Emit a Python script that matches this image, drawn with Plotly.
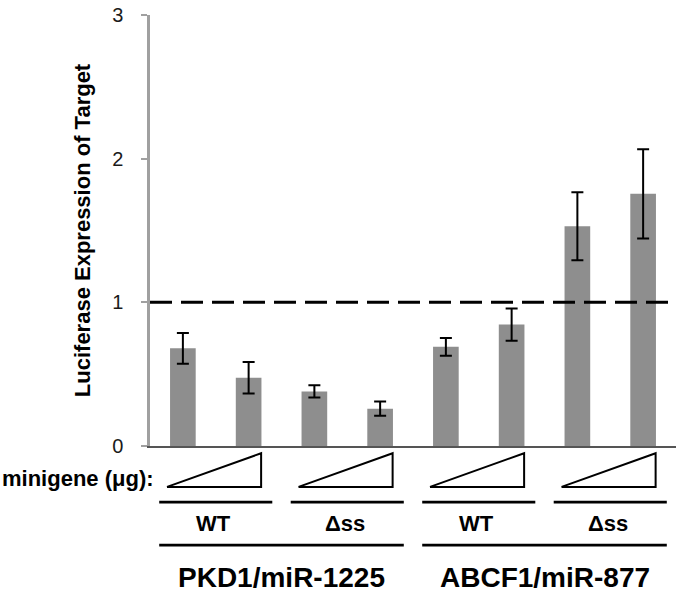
import plotly.graph_objects as go

# ---- data ----
bar_index = [0, 1, 2, 3, 4, 5, 6, 7]
values = [0.68, 0.475, 0.38, 0.26, 0.69, 0.845, 1.53, 1.755]
errors = [0.107, 0.11, 0.043, 0.049, 0.061, 0.112, 0.237, 0.31]
y_ticks = [0, 1, 2, 3]
reference_level = 1
pair_labels = ["WT", "Δss", "WT", "Δss"]
pair_centers = [0.5, 2.5, 4.5, 6.5]
group_labels = ["PKD1/miR-1225", "ABCF1/miR-877"]
group_centers = [1.5, 5.5]
y_title = "Luciferase Expression of Target"
dose_label = "minigene (μg):"

FONT = "Liberation Sans, Arial, sans-serif"

fig = go.Figure()
fig.add_trace(go.Bar(
    x=bar_index, y=values,
    marker=dict(color="#8e8e8e", line=dict(width=0)),
    error_y=dict(type="data", array=errors, visible=True,
                 color="black", thickness=2, width=6),
    width=0.39,
))

# dashed reference line
fig.add_shape(type="line", xref="x", yref="y",
              x0=-0.5, x1=7.39, y0=reference_level, y1=reference_level,
              line=dict(color="black", width=3, dash="22px,9px"))

shapes = []
# triangles (dose ramps) and short lines under each pair
for c in pair_centers:
    xl, xr = c - 0.74, c + 0.69
    shapes.append(dict(type="path", xref="x", yref="paper",
                       path=f"M {xl},-0.0949 L {xr},-0.0949 L {xr},-0.0168 Z",
                       line=dict(color="black", width=2), fillcolor="white"))
    shapes.append(dict(type="line", xref="x", yref="paper",
                       x0=c - 0.86, x1=c + 0.86, y0=-0.1303, y1=-0.1303,
                       line=dict(color="black", width=2.6)))
for c in group_centers:
    shapes.append(dict(type="line", xref="x", yref="paper",
                       x0=c - 1.86, x1=c + 1.86, y0=-0.2299, y1=-0.2299,
                       line=dict(color="black", width=2.8)))
for s in shapes:
    fig.add_shape(**s)

annotations = []
for c, t in zip(pair_centers, pair_labels):
    annotations.append(dict(x=c - 0.03, y=-0.1793, xref="x", yref="paper",
                            text=f"<b>{t}</b>", showarrow=False,
                            font=dict(family=FONT, size=22, color="black"),
                            xanchor="center", yanchor="middle"))
for c, t in zip(group_centers, group_labels):
    annotations.append(dict(x=c, y=-0.3057, xref="x", yref="paper",
                            text=f"<b>{t}</b>", showarrow=False,
                            font=dict(family=FONT, size=28, color="black"),
                            xanchor="center", yanchor="middle"))
annotations.append(dict(x=0.012, y=-0.0759, xref="paper", yref="paper",
                        text=f"<b>{dose_label}</b>", showarrow=False,
                        font=dict(family=FONT, size=22, color="black"),
                        xanchor="right", yanchor="middle"))

fig.update_layout(
    width=680, height=594,
    margin=dict(l=150, r=4, t=11, b=148),
    paper_bgcolor="white", plot_bgcolor="white",
    showlegend=False,
    annotations=annotations,
    font=dict(family=FONT, color="#1a1a1a"),
    xaxis=dict(range=[-0.5, 7.5], showticklabels=False, ticks="",
               showgrid=False, zeroline=False,
               showline=True, linecolor="#555555", linewidth=1.5),
    yaxis=dict(range=[0, 3], tickvals=y_ticks, ticks="outside", ticklen=6,
               tickwidth=2, tickcolor="#a0a0a0",
               showline=True, linecolor="#a0a0a0", linewidth=2.5,
               showgrid=False, zeroline=False,
               tickfont=dict(family=FONT, size=20, color="#1a1a1a"),
               ticklabelstandoff=14,
               title=dict(text=f"<b>{y_title}</b>", standoff=16,
                          font=dict(family=FONT, size=22, color="black"))),
)

fig.write_html("out.html",
               config={"displayModeBar": False},
               post_script="document.body.style.margin='0';"
                           "document.body.style.overflow='hidden';")
